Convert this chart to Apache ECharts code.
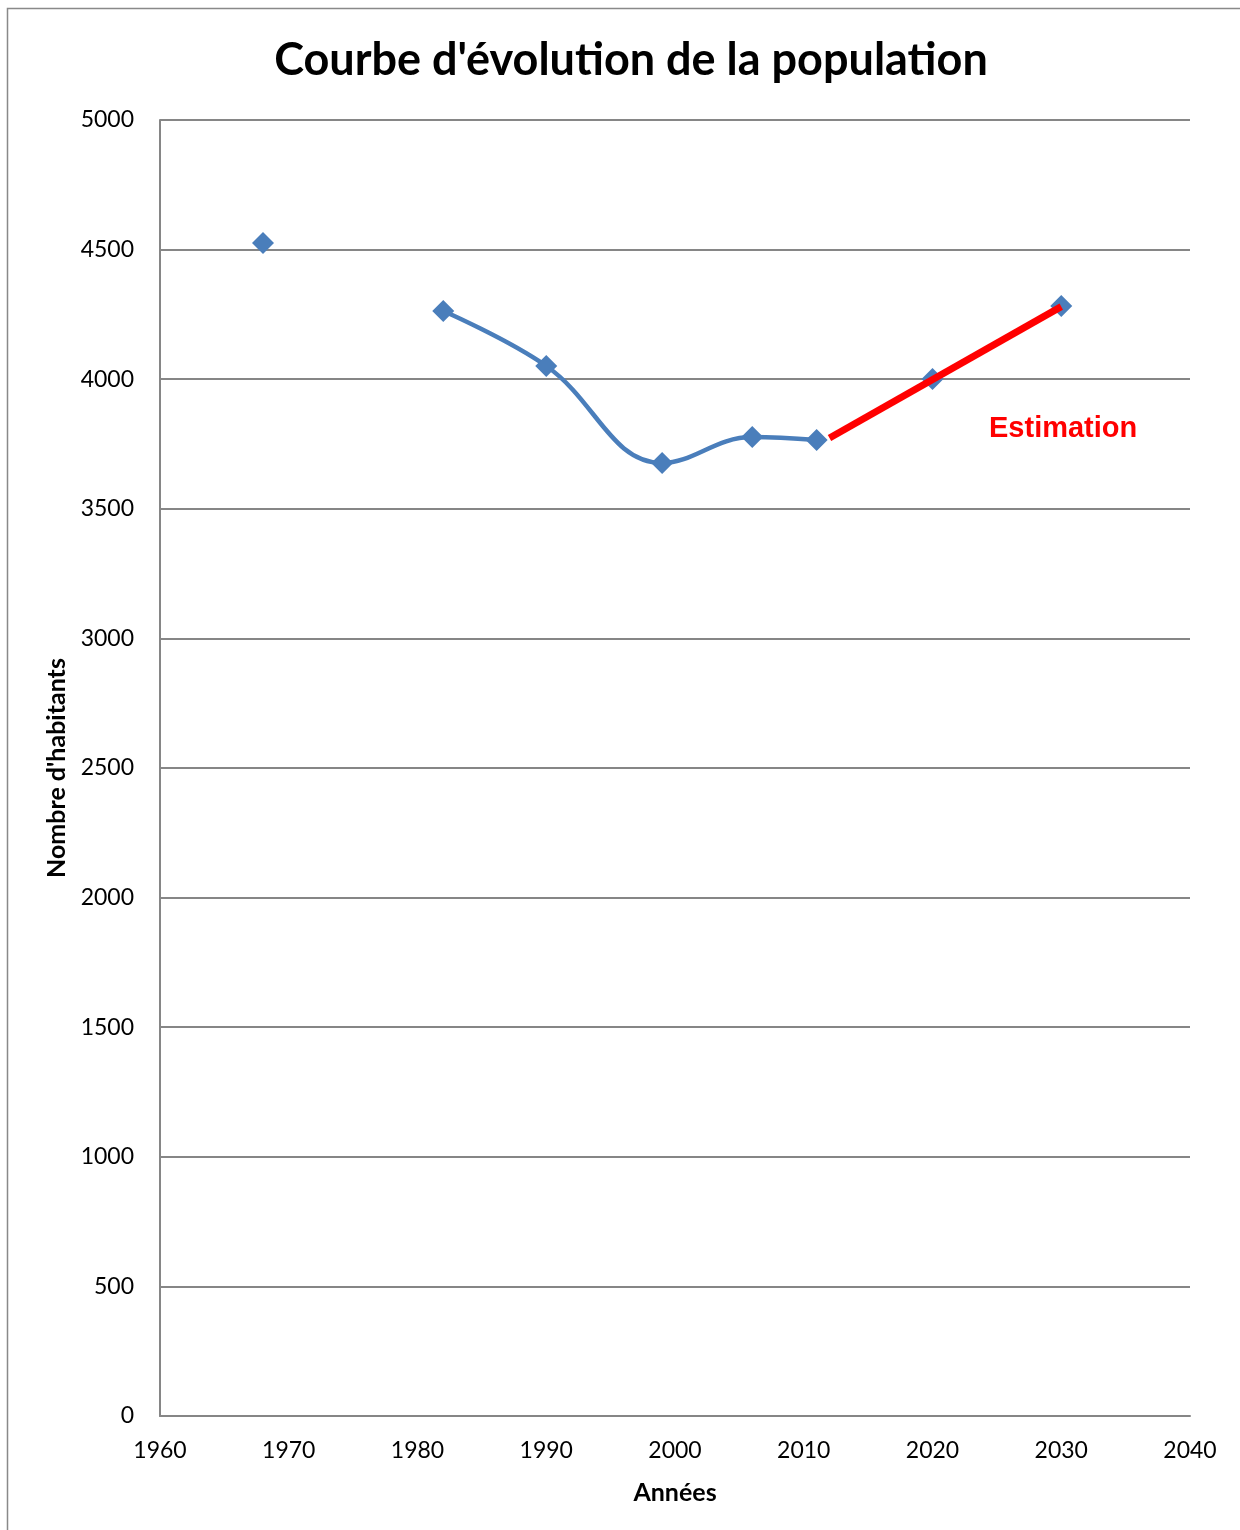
<!DOCTYPE html>
<html>
<head>
<meta charset="utf-8">
<script src="https://cdn.jsdelivr.net/npm/echarts@6/dist/echarts.min.js"></script>
<style>
html, body { margin: 0; padding: 0; background: #fff; }
#chart { width: 1240px; height: 1530px; }
</style>
</head>
<body>
<div id="chart"></div>
<script>
// population relevée (1968 isolé, puis 1982-2011, puis points estimés)
var years = [1968, null, 1982, 1990, 1999, 2006, 2011, null, 2020, 2030];
var population = [4525, null, 4263, 4051, 3677, 3777, 3765, null, 4001, 4282];
// segment d'estimation
var estYears = [2012, 2030];
var estValues = [3773, 4280];
var yTicks = [0, 500, 1000, 1500, 2000, 2500, 3000, 3500, 4000, 4500, 5000];

var font = 'Lato, "Open Sans", sans-serif';

function pairs(xs, ys) {
    return xs.map(function (x, i) {
        return x === null ? ['-', '-'] : [x, ys[i]];
    });
}

function plain(v) {
    return String(v);
}

echarts.init(document.getElementById('chart')).setOption({
    backgroundColor: '#fff',
    animation: false,
    title: {
        text: "Courbe d'évolution de la population",
        left: 626,
        textAlign: 'center',
        top: 33,
        textStyle: {
            color: '#000',
            fontSize: 45,
            fontWeight: 'bold',
            fontFamily: font
        }
    },
    grid: {
        left: 160,
        right: 50,
        top: 120,
        bottom: 114,
        containLabel: false
    },
    xAxis: {
        type: 'value',
        min: 1960,
        max: 2040,
        interval: 10,
        name: 'Années',
        nameLocation: 'middle',
        nameGap: 64,
        nameTextStyle: { color: '#000', fontSize: 25, fontWeight: 'bold', fontFamily: font },
        axisLine: { show: true, lineStyle: { color: '#868686', width: 2 } },
        axisTick: { show: false },
        splitLine: { show: false },
        axisLabel: { color: '#000', fontSize: 23, fontFamily: font, margin: 23, formatter: plain }
    },
    yAxis: {
        type: 'value',
        min: yTicks[0],
        max: yTicks[yTicks.length - 1],
        interval: 500,
        name: "Nombre d'habitants",
        nameLocation: 'middle',
        nameGap: 90,
        nameRotate: 90,
        nameTextStyle: { color: '#000', fontSize: 25, fontWeight: 'bold', fontFamily: font },
        axisLine: { show: true, lineStyle: { color: '#868686', width: 2 } },
        axisTick: { show: false },
        splitLine: { lineStyle: { color: '#868686', width: 2 } },
        axisLabel: { color: '#000', fontSize: 23, fontFamily: font, margin: 26, formatter: plain }
    },
    series: [
        {
            type: 'line',
            data: pairs(years, population),
            smooth: 0.4,
            connectNulls: false,
            symbol: 'diamond',
            symbolSize: 22,
            showAllSymbol: true,
            itemStyle: { color: '#4A7EBB' },
            lineStyle: { color: '#4A7EBB', width: 4.5 },
            z: 2
        },
        {
            type: 'line',
            data: pairs(estYears, estValues),
            symbol: 'none',
            lineStyle: { color: '#FF0000', width: 7 },
            z: 3
        }
    ],
    graphic: [
        {
            type: 'rect',
            shape: { x: 7.5, y: 8.5, width: 1250, height: 1540 },
            style: { fill: null, stroke: '#898989', lineWidth: 1.5 },
            silent: true
        },
        {
            type: 'text',
            left: 989,
            top: 414,
            style: {
                text: 'Estimation',
                fill: '#FF0000',
                font: 'bold 29px "Liberation Sans", Arial, sans-serif'
            }
        }
    ]
});
</script>
</body>
</html>
